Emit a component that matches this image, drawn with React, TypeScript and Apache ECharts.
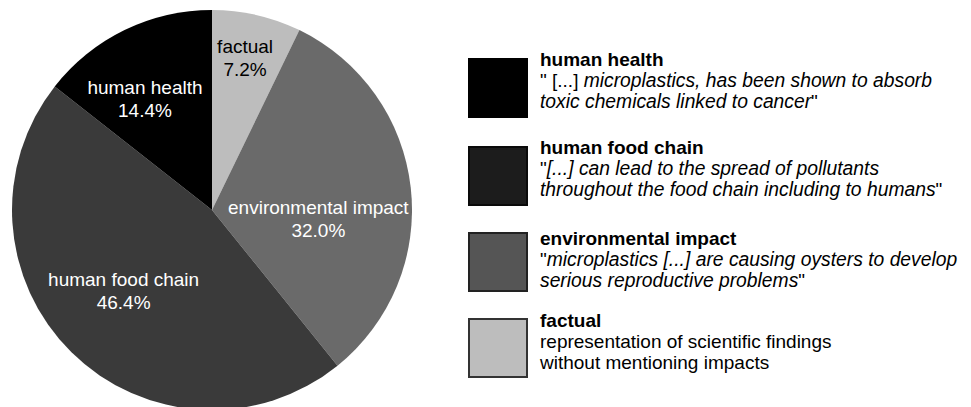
import React, { useEffect, useRef } from "react";
import * as echarts from "echarts";

const categories = ["factual", "environmental impact", "human food chain", "human health"];
const values = [7.2, 32.0, 46.4, 14.4];
const sliceColors = ["#bdbdbd", "#6a6a6a", "#3a3a3a", "#000000"];
const labelColors = ["#000000", "#ffffff", "#ffffff", "#ffffff"];
const labelShift = [
  [10, -52],
  [4, 21],
  [-16, 8],
  [-22, -18],
];

const legendTitles = ["human health", "human food chain", "environmental impact", "factual"];
const legendLines = [
  ['{n|" [...] }{i|microplastics, has been shown to absorb}', '{i|toxic chemicals linked to cancer}{n|"}'],
  ['{n|"}{i|[...] can lead to the spread of pollutants}', '{i|throughout the food chain including to humans}{n|"}'],
  ['{n|"}{i|microplastics [...] are causing oysters to develop}', '{i|serious reproductive problems}{n|"}'],
  ["{n|representation of scientific findings}", "{n|without mentioning impacts}"],
];
const legendFill = ["#000000", "#1c1c1c", "#555555", "#bdbdbd"];
const legendStroke = ["#000000", "#0a0a0a", "#222222", "#333333"];
const legendBoxTop = [59, 147, 233, 319];
const legendTextTop = [49, 137, 228, 310];

const FONT = "'Liberation Sans', Arial, Helvetica, sans-serif";

export default function App() {
  const ref = useRef<HTMLDivElement>(null);
  useEffect(() => {
    document.body.style.margin = "0";
    const chart = echarts.init(ref.current!, null, { renderer: "svg" });
    const rich = {
      b: { fontFamily: FONT, fontSize: 19, fontWeight: "bold", color: "#000", lineHeight: 21 },
      i: { fontFamily: FONT, fontSize: 19.3, fontStyle: "italic", color: "#000", lineHeight: 21 },
      n: { fontFamily: FONT, fontSize: 19, color: "#000", lineHeight: 21 },
    };
    const graphics: any[] = [];
    legendTitles.forEach((t, k) => {
      graphics.push({
        type: "rect",
        shape: { x: 469, y: legendBoxTop[k], width: 58, height: 58 },
        style: { fill: legendFill[k], stroke: legendStroke[k], lineWidth: 2 },
      });
      graphics.push({
        type: "text",
        x: 540,
        y: legendTextTop[k],
        style: {
          text: ["{b|" + t + "}", ...legendLines[k]].join("\n"),
          rich,
          fontFamily: FONT,
          fontSize: 19,
          lineHeight: 21,
          align: "left",
          verticalAlign: "top",
        },
      });
    });
    chart.setOption({
      animation: false,
      backgroundColor: "#ffffff",
      graphic: graphics,
      series: [
        {
          type: "pie",
          center: [212, 210],
          radius: 200,
          startAngle: 90,
          clockwise: true,
          avoidLabelOverlap: false,
          silent: true,
          data: categories.map((c, k) => ({
            name: c,
            value: values[k],
            itemStyle: { color: sliceColors[k] },
            label: { color: labelColors[k] },
          })),
          label: {
            show: true,
            position: "inside",
            fontFamily: FONT,
            fontSize: 19,
            lineHeight: 23,
            formatter: (p: any) => p.name + "\n" + Number(p.value).toFixed(1) + "%",
          },
          labelLine: { show: false },
          labelLayout: (p: any) => ({ dx: labelShift[p.dataIndex][0], dy: labelShift[p.dataIndex][1] }),
        },
      ],
    });
    return () => chart.dispose();
  }, []);
  return <div ref={ref} style={{ width: 971, height: 407 }} />;
}
